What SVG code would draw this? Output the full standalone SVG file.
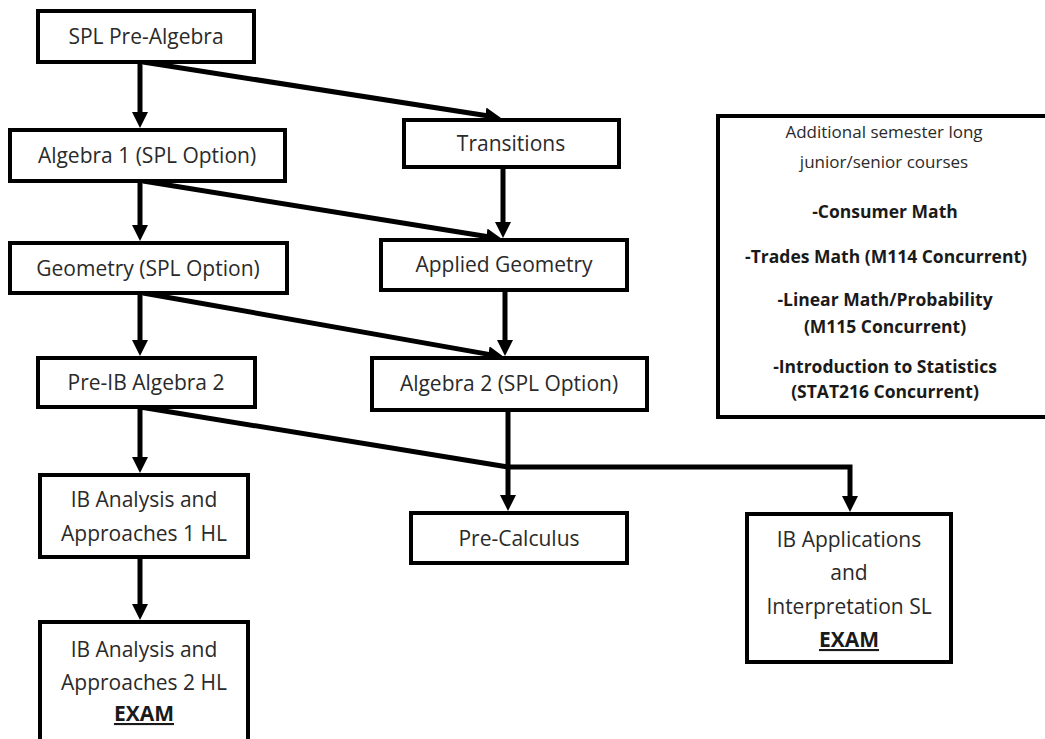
<svg xmlns="http://www.w3.org/2000/svg" width="1045" height="739" viewBox="0 0 1045 739">
  <defs>
    <marker id="ah" markerUnits="userSpaceOnUse" viewBox="0 0 16 16" markerWidth="16" markerHeight="16" refX="2" refY="8" orient="auto">
      <path d="M0,0 L16,8 L0,16 z" fill="#000"/>
    </marker>
    <style>
      .box { fill: #fff; stroke: #000; stroke-width: 4; }
      .t { font-family: "Open Sans", "Noto Sans", sans-serif; font-size: 21px; fill: #2a2a2a; text-anchor: middle; }
      .s { font-family: "Open Sans", "Noto Sans", sans-serif; font-size: 17px; fill: #2a2a2a; text-anchor: middle; }
      .sb { font-weight: bold; font-size: 17.5px; fill: #1a1a1a; }
      .ex { font-weight: bold; text-decoration: underline; fill: #1a1a1a; }
      .c { fill: none; stroke: #000; stroke-width: 5; }
      .ca { fill: none; stroke: #000; stroke-width: 5; marker-end: url(#ah); }
    </style>
  </defs>
  <rect width="1045" height="739" fill="#fff"/>

  <g id="connectors">
    <line class="ca" x1="140" y1="62" x2="140" y2="114"/>
    <line class="ca" x1="143" y1="62" x2="487.2" y2="115.8"/>
    <line class="ca" x1="140" y1="181" x2="140" y2="227"/>
    <line class="ca" x1="143" y1="181" x2="488.2" y2="236.8"/>
    <line class="ca" x1="503" y1="167" x2="503" y2="224"/>
    <line class="ca" x1="140" y1="293" x2="140" y2="342"/>
    <line class="ca" x1="143" y1="293" x2="490.2" y2="354.6"/>
    <line class="ca" x1="505" y1="290" x2="505" y2="342"/>
    <line class="ca" x1="140" y1="407" x2="140" y2="459"/>
    <line class="c" x1="140" y1="407" x2="508" y2="467"/>
    <line class="ca" x1="508" y1="410" x2="508" y2="497"/>
    <path class="ca" d="M508,467 H850 V498"/>
    <line class="ca" x1="140" y1="557" x2="140" y2="606"/>
  </g>

  <g id="spl-pre-algebra">
    <rect class="box" x="38" y="11" width="216" height="51"/>
    <text class="t" x="146" y="44">SPL Pre-Algebra</text>
  </g>
  <g id="algebra-1">
    <rect class="box" x="10" y="130" width="275" height="51"/>
    <text class="t" x="147" y="163">Algebra 1 (SPL Option)</text>
  </g>
  <g id="transitions">
    <rect class="box" x="404" y="120" width="215" height="47"/>
    <text class="t" x="511" y="151">Transitions</text>
  </g>
  <g id="geometry">
    <rect class="box" x="10" y="243" width="277" height="50"/>
    <text class="t" x="148" y="276">Geometry (SPL Option)</text>
  </g>
  <g id="applied-geometry">
    <rect class="box" x="381" y="240" width="246" height="50"/>
    <text class="t" x="504" y="272">Applied Geometry</text>
  </g>
  <g id="pre-ib-algebra-2">
    <rect class="box" x="38" y="358" width="217" height="49"/>
    <text class="t" x="146" y="390">Pre-IB Algebra 2</text>
  </g>
  <g id="algebra-2">
    <rect class="box" x="372" y="358" width="275" height="52"/>
    <text class="t" x="509" y="391">Algebra 2 (SPL Option)</text>
  </g>
  <g id="ib-aa-1">
    <rect class="box" x="40" y="475" width="208" height="82"/>
    <text class="t" x="144" y="507">IB Analysis and</text>
    <text class="t" x="144" y="541">Approaches 1 HL</text>
  </g>
  <g id="pre-calculus">
    <rect class="box" x="411" y="513" width="216" height="50"/>
    <text class="t" x="519" y="546">Pre-Calculus</text>
  </g>
  <g id="ib-ai-sl">
    <rect class="box" x="747" y="514" width="204" height="148"/>
    <text class="t" x="849" y="547">IB Applications</text>
    <text class="t" x="849" y="580">and</text>
    <text class="t" x="849" y="614">Interpretation SL</text>
    <text class="t ex" x="849" y="647">EXAM</text>
  </g>
  <g id="ib-aa-2">
    <rect class="box" x="40" y="622" width="208" height="130"/>
    <text class="t" x="144" y="657">IB Analysis and</text>
    <text class="t" x="144" y="690">Approaches 2 HL</text>
    <text class="t ex" x="144" y="721">EXAM</text>
  </g>
  <g id="additional-courses">
    <rect class="box" x="718" y="116" width="340" height="301"/>
    <text class="s" x="884" y="138">Additional semester long</text>
    <text class="s" x="884" y="168">junior/senior courses</text>
    <text class="s sb" x="885" y="218">-Consumer Math</text>
    <text class="s sb" x="886" y="263">-Trades Math (M114 Concurrent)</text>
    <text class="s sb" x="885" y="306">-Linear Math/Probability</text>
    <text class="s sb" x="885" y="333">(M115 Concurrent)</text>
    <text class="s sb" x="885" y="373">-Introduction to Statistics</text>
    <text class="s sb" x="885" y="398">(STAT216 Concurrent)</text>
  </g>
</svg>
